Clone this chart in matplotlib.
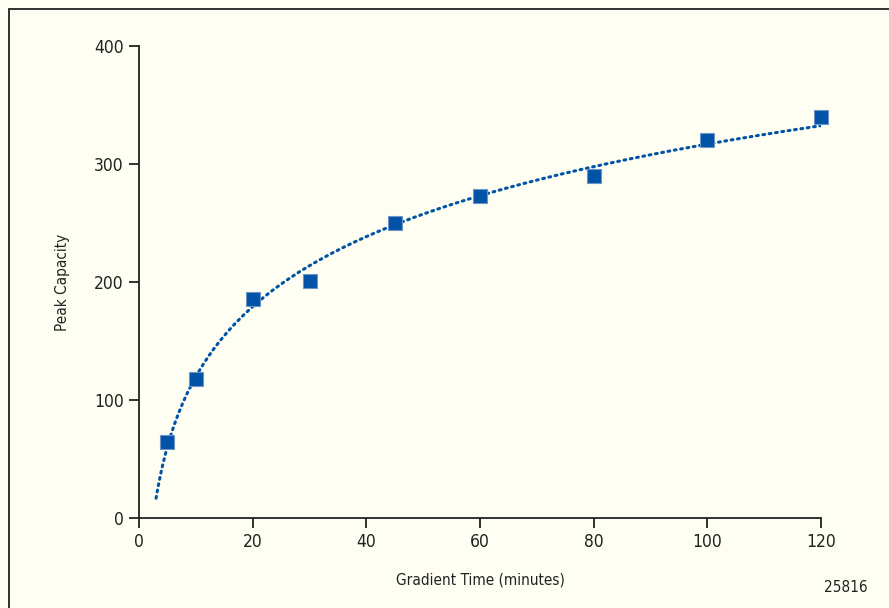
import matplotlib
matplotlib.use('Agg')
import matplotlib.pyplot as plt
import numpy as np
from matplotlib.patches import Rectangle

plt.rcParams['font.family'] = ['DejaVu Sans']
plt.rcParams['font.stretch'] = 'condensed'

# Data
gradient_time = [5, 10, 20, 30, 45, 60, 80, 100, 120]
peak_capacity = [64, 118, 186, 201, 250, 273, 290, 320, 340]
x_ticks = [0, 20, 40, 60, 80, 100, 120]
y_ticks = [0, 100, 200, 300, 400]

bg = '#fefef2'
blue = '#0053a6'
ink = '#222222'

fig = plt.figure(figsize=(8.89, 6.08), dpi=100, facecolor=bg)
ax = fig.add_axes([139 / 889, 1 - 518 / 608, 682 / 889, 472 / 608])
ax.set_facecolor(bg)

# logarithmic trend line fitted to the points
coef = np.polyfit(np.log(gradient_time), peak_capacity, 1)
xf = np.linspace(3, 120, 300)
ax.plot(xf, coef[0] * np.log(xf) + coef[1], color=blue, linewidth=2.2,
        linestyle=(0, (0.6, 1.5)), dash_capstyle='round', zorder=2)

ax.scatter(gradient_time, peak_capacity, marker='s', s=110, color=blue,
           edgecolors='#6e95c8', linewidths=0.8, zorder=3, clip_on=False)

ax.set_xlim(0, 120)
ax.set_ylim(0, 400)
ax.set_xticks(x_ticks)
ax.set_yticks(y_ticks)
for s in ['top', 'right']:
    ax.spines[s].set_visible(False)
for s in ['left', 'bottom']:
    ax.spines[s].set_linewidth(1.3)
    ax.spines[s].set_color(ink)
ax.tick_params(direction='out', length=7, width=1.3, color=ink,
               labelsize=12.5, labelcolor=ink, pad=4)

ax.set_xlabel('Gradient Time (minutes)', fontsize=11, color=ink, labelpad=15)
ax.set_ylabel('Peak Capacity', fontsize=11, color=ink, labelpad=17)

fig.text(868 / 889, 1 - 588 / 608, '25816', ha='right', va='center',
         fontsize=11, color=ink)

# frame around the whole figure
fig.patches.append(Rectangle((8.5 / 889, -0.1), 1.2, 1 - 9 / 608 + 0.1,
                             transform=fig.transFigure, fill=False,
                             edgecolor=ink, linewidth=1.3))

fig.savefig('out.png', dpi=100, facecolor=bg)
